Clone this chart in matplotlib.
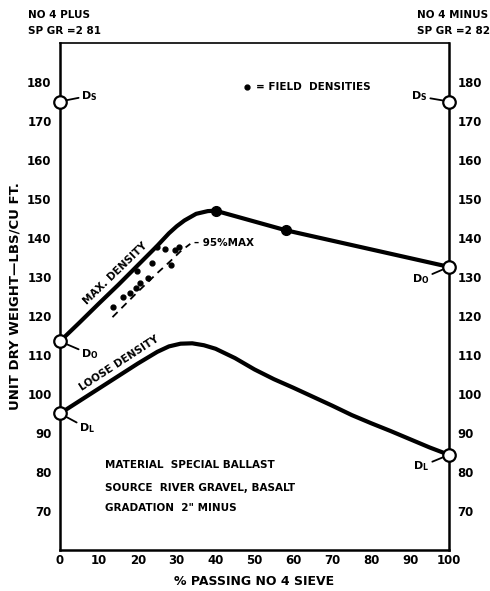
import matplotlib
matplotlib.use('Agg')
import matplotlib.pyplot as plt

plt.rcParams['font.family'] = ['DejaVu Sans']
plt.rcParams['font.weight'] = 'bold'
plt.rcParams['axes.labelweight'] = 'bold'

# curves (% passing no 4, unit dry weight)
max_x = [0, 5, 10, 15, 20, 25, 28, 30, 32, 35, 38, 40, 58, 100]
max_y = [113.5, 118.3, 123.2, 128, 133, 138, 141.2, 143, 144.5, 146.2, 146.9, 147, 142, 132.6]
max_pts_x = [40, 58]
max_pts_y = [147, 142]

loose_x = [0, 5, 10, 15, 20, 25, 28, 31, 34, 37, 40, 45, 50, 55, 60, 65, 70, 75, 80, 85, 90, 95, 100]
loose_y = [95, 98.2, 101.4, 104.6, 107.8, 110.8, 112.2, 112.9, 113, 112.5, 111.6, 109.2, 106.3,
           103.8, 101.6, 99.3, 97, 94.6, 92.5, 90.5, 88.4, 86.3, 84.4]

pct95_x = [13.5, 20, 25, 28.3, 31, 33.5]
pct95_y = [119.7, 126.2, 131, 134, 136.6, 138.5]

field_x = [13.7, 16.3, 18, 19.5, 20.5, 22.6, 19.8, 23.7, 24.9, 27.0, 28.5, 29.6, 30.6]
field_y = [122.3, 124.9, 126.0, 127.3, 128.5, 129.7, 131.5, 133.6, 137.7, 137.2, 133.0, 136.9, 137.6]

end_x = [0, 0, 0, 100, 100, 100]
end_y = [175, 113.5, 95, 175, 132.6, 84.4]

xticks = list(range(0, 101, 10))
yticks = list(range(70, 181, 10))

fig = plt.figure(figsize=(4.9, 5.91), dpi=100)
ax = fig.add_axes([0.1224, 0.0694, 0.7939, 0.8578])

ax.plot(max_x, max_y, color='black', lw=3, solid_capstyle='round', zorder=3)
ax.plot(max_pts_x, max_pts_y, 'o', color='black', ms=7, zorder=4)
ax.plot(loose_x, loose_y, color='black', lw=3, solid_capstyle='round', zorder=3)
ax.plot(pct95_x, pct95_y, color='black', lw=1.3, ls=(0, (4, 3)), zorder=3)
ax.plot(field_x, field_y, 'o', color='black', ms=3.5, zorder=4)
ax.plot(end_x, end_y, 'o', mfc='white', mec='black', mew=1.6, ms=9, zorder=5, clip_on=False)

# labels along the curves
ax.text(14.2, 130.8, 'MAX. DENSITY', rotation=44, fontsize=7.5, ha='center', va='center')
ax.text(15.2, 107.8, 'LOOSE DENSITY', rotation=33, fontsize=7.5, ha='center', va='center')
ax.text(34.5, 138.7, '– 95%MAX', fontsize=7.5, ha='left', va='center')

# end point labels with leader lines
lead = dict(arrowstyle='-', color='black', lw=1.3, shrinkA=0, shrinkB=4)
ax.annotate(r'D$_\mathbf{S}$', xy=(0, 175), xytext=(5.5, 176.5), fontsize=8,
            ha='left', va='center', arrowprops=lead)
ax.annotate(r'D$_\mathbf{O}$', xy=(0, 113.5), xytext=(5.5, 110.2), fontsize=8,
            ha='left', va='center', arrowprops=lead)
ax.annotate(r'D$_\mathbf{L}$', xy=(0, 95), xytext=(5, 91.2), fontsize=8,
            ha='left', va='center', arrowprops=lead)
ax.annotate(r'D$_\mathbf{S}$', xy=(100, 175), xytext=(94.5, 176.3), fontsize=8,
            ha='right', va='center', arrowprops=lead)
ax.annotate(r'D$_\mathbf{O}$', xy=(100, 132.6), xytext=(95, 129.5), fontsize=8,
            ha='right', va='center', arrowprops=lead)
ax.annotate(r'D$_\mathbf{L}$', xy=(100, 84.4), xytext=(95, 81.5), fontsize=8,
            ha='right', va='center', arrowprops=lead)

# legend for field densities
ax.plot([48.2], [178.8], 'o', color='black', ms=3.5, clip_on=False)
ax.text(50.5, 178.8, '= FIELD  DENSITIES', fontsize=7.5, ha='left', va='center')

# material note
ax.text(11.6, 81.8, 'MATERIAL  SPECIAL BALLAST', fontsize=7.5, ha='left', va='center')
ax.text(11.6, 75.9, 'SOURCE  RIVER GRAVEL, BASALT', fontsize=7.5, ha='left', va='center')
ax.text(11.6, 70.8, 'GRADATION  2" MINUS', fontsize=7.5, ha='left', va='center')

ax.set_xlim(0, 100)
ax.set_ylim(60, 190)
ax.set_xticks(xticks)
ax.set_xticklabels([str(v) for v in xticks], fontsize=8.5)
ax.set_yticks(yticks)
ax.set_yticklabels([str(v) for v in yticks], fontsize=8.5)
ax.tick_params(axis='x', length=0, pad=3)
ax.tick_params(axis='y', length=0, pad=6, left=True, right=True, labelleft=True, labelright=True)

for side in ['left', 'right', 'bottom']:
    ax.spines[side].set_linewidth(1.8)
ax.spines['top'].set_linewidth(1.2)

ax.set_xlabel('% PASSING NO 4 SIEVE', fontsize=9, labelpad=6)
ax.set_ylabel('UNIT DRY WEIGHT—LBS/CU FT.', fontsize=9.5, labelpad=4)

fig.text(28 / 490, 1 - 15 / 591, 'NO 4 PLUS', fontsize=7.5, ha='left', va='center')
fig.text(28 / 490, 1 - 31 / 591, 'SP GR =2 81', fontsize=7.5, ha='left', va='center')
fig.text(488 / 490, 1 - 15 / 591, 'NO 4 MINUS', fontsize=7.5, ha='right', va='center')
fig.text(490 / 490, 1 - 31 / 591, 'SP GR =2 82', fontsize=7.5, ha='right', va='center')

plt.savefig('out.png', dpi=100)
